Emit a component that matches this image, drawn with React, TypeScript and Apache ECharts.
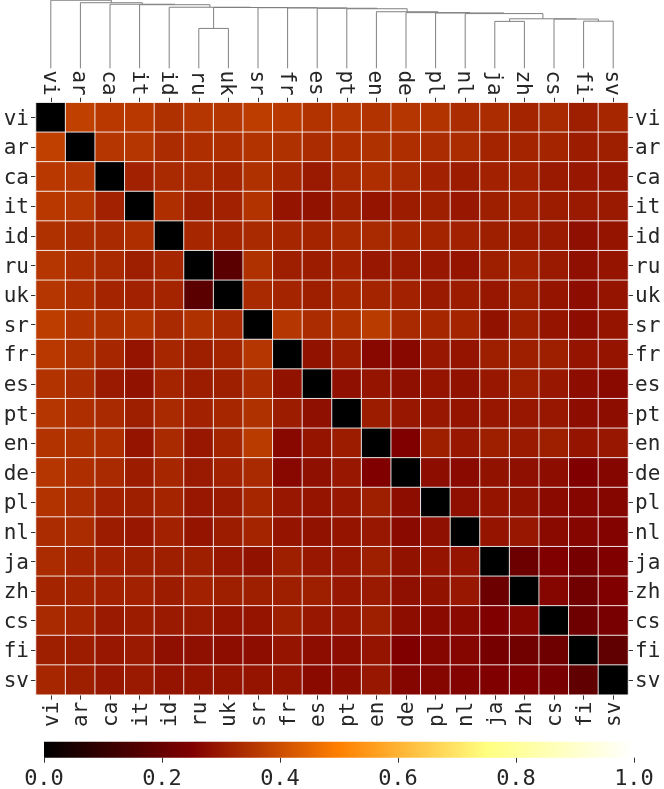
import React, { useEffect, useRef } from "react";
import * as echarts from "echarts";

// ---------- data ----------
const languages = ["vi", "ar", "ca", "it", "id", "ru", "uk", "sr", "fr", "es", "pt", "en", "de", "pl", "nl", "ja", "zh", "cs", "fi", "sv"];

const rowVi = [0, .375, .36, .36, .345, .355, .355, .37, .36, .35, .355, .35, .355, .35, .335, .335, .32, .33, .31, .325];
const rowAr = [.375, 0, .355, .355, .335, .34, .34, .35, .345, .335, .34, .345, .34, .335, .335, .32, .32, .32, .305, .31];
const rowCa = [.36, .355, 0, .315, .33, .33, .32, .345, .325, .3, .33, .34, .33, .315, .305, .315, .315, .3, .295, .295];
const rowIt = [.36, .355, .315, 0, .34, .31, .315, .35, .29, .285, .31, .29, .305, .31, .295, .31, .315, .305, .3, .3];
const rowId = [.345, .335, .33, .34, 0, .325, .32, .33, .325, .32, .33, .33, .325, .32, .315, .31, .305, .3, .28, .29];
const rowRu = [.355, .34, .33, .31, .325, 0, .176, .345, .31, .305, .315, .295, .3, .295, .29, .31, .315, .3, .28, .29];
const rowUk = [.355, .34, .32, .315, .32, .176, 0, .33, .32, .31, .325, .32, .315, .3, .305, .295, .31, .29, .275, .29];
const rowSr = [.37, .35, .345, .35, .33, .345, .33, 0, .355, .335, .345, .365, .33, .325, .32, .285, .31, .29, .275, .29];
const rowFr = [.36, .345, .325, .29, .325, .31, .32, .355, 0, .285, .305, .265, .265, .295, .29, .31, .31, .31, .29, .29];
const rowEs = [.35, .335, .3, .285, .32, .305, .31, .335, .285, 0, .28, .29, .28, .29, .285, .295, .31, .295, .275, .27];
const rowPt = [.355, .34, .33, .31, .33, .315, .325, .345, .305, .28, 0, .305, .295, .295, .29, .295, .295, .295, .275, .275];
const rowEn = [.35, .345, .34, .29, .33, .295, .32, .365, .265, .29, .305, 0, .25, .31, .295, .31, .3, .31, .29, .295];
const rowDe = [.355, .34, .33, .305, .325, .3, .315, .33, .265, .28, .295, .25, 0, .275, .27, .285, .28, .275, .25, .26];
const rowPl = [.35, .335, .315, .31, .32, .295, .3, .325, .295, .29, .295, .31, .275, 0, .28, .29, .285, .27, .26, .26];
const rowNl = [.335, .335, .305, .295, .315, .29, .305, .32, .29, .285, .29, .295, .27, .28, 0, .29, .295, .27, .26, .255];
const rowJa = [.335, .32, .315, .31, .31, .31, .295, .285, .31, .295, .295, .31, .285, .29, .29, 0, .21, .25, .23, .25];
const rowZh = [.32, .32, .315, .315, .305, .315, .31, .31, .31, .31, .295, .3, .28, .285, .295, .21, 0, .26, .22, .25];
const rowCs = [.33, .32, .3, .305, .3, .3, .29, .29, .31, .295, .295, .31, .275, .27, .27, .25, .26, 0, .215, .235];
const rowFi = [.31, .305, .295, .3, .28, .28, .275, .275, .29, .275, .275, .29, .25, .26, .26, .23, .22, .215, 0, .19];
const rowSv = [.325, .31, .295, .3, .29, .29, .29, .29, .29, .27, .275, .295, .26, .26, .255, .25, .25, .235, .19, 0];

const matrix = [rowVi, rowAr, rowCa, rowIt, rowId, rowRu, rowUk, rowSr, rowFr, rowEs, rowPt, rowEn, rowDe, rowPl, rowNl, rowJa, rowZh, rowCs, rowFi, rowSv];

// linkage (scipy style): [childA, childB, height]; leaves 0..19, clusters 20+
const linkage: [number, number, number][] = [
  [5, 6, 0.584],
  [15, 16, 0.687],
  [18, 19, 0.690],
  [17, 22, 0.721],
  [21, 23, 0.725],
  [14, 24, 0.801],
  [13, 25, 0.810],
  [12, 26, 0.815],
  [11, 27, 0.828],
  [10, 28, 0.872],
  [9, 29, 0.879],
  [8, 30, 0.884],
  [7, 31, 0.887],
  [20, 32, 0.890],
  [4, 33, 0.894],
  [3, 34, 0.931],
  [2, 35, 0.938],
  [1, 36, 0.960],
  [0, 37, 0.996],
];

const colorbarTicks = [0, 0.2, 0.4, 0.6, 0.8, 1.0];
const afmhot = ["#000000", "#800000", "#ff8000", "#ffff80", "#ffffff"];

// ---------- component ----------
export default function App() {
  const ref = useRef<HTMLDivElement>(null);

  useEffect(() => {
    if (!ref.current) return;
    const chart = echarts.init(ref.current, undefined, { renderer: "svg" });

    const heatData: number[][] = [];
    matrix.forEach((row, r) => row.forEach((v, c) => heatData.push([c, r, v])));

    const n = languages.length;
    const pos: number[] = languages.map((_, i) => i);
    const hgt: number[] = languages.map(() => 0);
    const dendroData: number[][] = [];
    linkage.forEach(([a, b, h], k) => {
      dendroData.push([pos[a], pos[b], hgt[a], hgt[b], h]);
      pos[n + k] = (pos[a] + pos[b]) / 2;
      hgt[n + k] = h;
    });

    const font = "DejaVu Sans Mono";
    const labelStyle = { fontFamily: font, fontSize: 21, color: "#262626", margin: 7 };
    const tick = { show: true, length: 5, lineStyle: { color: "#333", width: 1 } };

    const option: any = {
      animation: false,
      grid: [
        { left: 36, top: 102.7, width: 592, height: 592 },
        { left: 36, top: 0, width: 592, height: 68.3 },
        { left: 44, top: 741.7, width: 590, height: 16 },
      ],
      xAxis: [
        {
          type: "category", data: languages, gridIndex: 0, position: "bottom",
          axisLine: { show: false }, axisTick: { ...tick, alignWithLabel: true },
          axisLabel: { ...labelStyle, rotate: 90, interval: 0 },
        },
        {
          type: "category", data: languages, gridIndex: 0, position: "top",
          axisLine: { show: false }, axisTick: { ...tick, alignWithLabel: true },
          axisLabel: { ...labelStyle, rotate: 90, interval: 0 },
        },
        {
          type: "value", gridIndex: 1, min: -0.5, max: n - 0.5, show: false,
        },
        {
          type: "value", gridIndex: 2, min: 0, max: 1, interval: 0.2, position: "bottom",
          axisLine: { show: false }, splitLine: { show: false },
          axisTick: { show: true, length: 5, lineStyle: { color: "#333" } },
          axisLabel: {
            fontFamily: font, fontSize: 22, color: "#262626", margin: 9,
            formatter: (v: number) => (colorbarTicks.includes(Math.round(v * 10) / 10) ? v.toFixed(1) : ""),
          },
        },
      ],
      yAxis: [
        {
          type: "category", data: languages, gridIndex: 0, inverse: true, position: "left",
          axisLine: { show: false }, axisTick: { ...tick, alignWithLabel: true },
          axisLabel: { ...labelStyle, interval: 0 },
        },
        {
          type: "category", data: languages, gridIndex: 0, inverse: true, position: "right",
          axisLine: { show: false }, axisTick: { ...tick, alignWithLabel: true },
          axisLabel: { ...labelStyle, interval: 0 },
        },
        { type: "value", gridIndex: 1, min: 0, max: 1, show: false },
        { type: "value", gridIndex: 2, min: 0, max: 1, show: false },
      ],
      visualMap: {
        type: "continuous", min: 0, max: 1, show: false, seriesIndex: 0,
        inRange: { color: afmhot },
      },
      series: [
        {
          type: "heatmap", xAxisIndex: 0, yAxisIndex: 0, data: heatData,
          itemStyle: { borderColor: "rgba(255,255,255,0.85)", borderWidth: 1 },
          emphasis: { disabled: true },
        },
        {
          type: "custom", xAxisIndex: 2, yAxisIndex: 2, data: dendroData,
          encode: { x: [0, 1], y: [2, 3, 4] },
          renderItem: (_p: any, api: any) => {
            const xa = api.value(0), xb = api.value(1), ha = api.value(2), hb = api.value(3), h = api.value(4);
            const pts = [api.coord([xa, ha]), api.coord([xa, h]), api.coord([xb, h]), api.coord([xb, hb])];
            return {
              type: "polyline",
              shape: { points: pts },
              style: { stroke: "#808080", lineWidth: 1, fill: null },
            };
          },
          clip: false,
        },
        {
          type: "custom", xAxisIndex: 3, yAxisIndex: 3, data: [[0, 0, 1, 1]],
          encode: { x: [0, 2], y: [1, 3] },
          renderItem: (_p: any, api: any) => {
            const a = api.coord([api.value(0), api.value(1)]);
            const b = api.coord([api.value(2), api.value(3)]);
            return {
              type: "rect",
              shape: { x: a[0], y: b[1], width: b[0] - a[0], height: a[1] - b[1] },
              style: {
                fill: new echarts.graphic.LinearGradient(0, 0, 1, 0,
                  afmhot.map((c, i) => ({ offset: i / (afmhot.length - 1), color: c }))),
              },
            };
          },
        },
      ],
    };

    chart.setOption(option);
    return () => chart.dispose();
  }, []);

  return <div ref={ref} style={{ position: "fixed", left: 0, top: 0, width: 664, height: 789 }} />;
}
